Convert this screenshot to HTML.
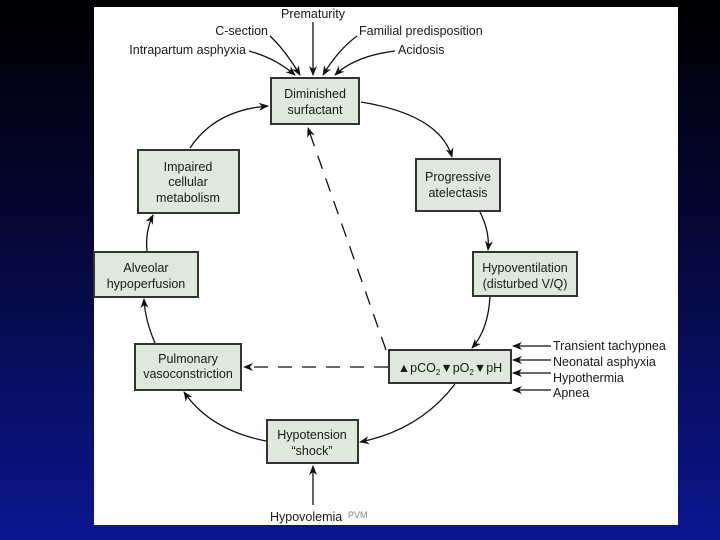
<!DOCTYPE html>
<html><head><style>
html,body{margin:0;padding:0}
body{width:720px;height:540px;background:linear-gradient(#000 0%,#05083a 45%,#0c1690 100%);position:relative;overflow:hidden;font-family:"Liberation Sans",sans-serif}
#p{position:absolute;left:94px;top:7px;width:584px;height:518px;background:#fff}
</style></head><body>
<div id="p"></div>
<svg width="720" height="540" style="position:absolute;left:0;top:0" font-family="Liberation Sans, sans-serif" font-size="12.5" fill="#1a1a1a">
<defs><marker id="a" markerWidth="10" markerHeight="8" refX="9" refY="4" orient="auto" markerUnits="userSpaceOnUse"><path d="M0,0 L10,4 L0,8 L3,4z" fill="#111"/></marker></defs>
<g fill="#dfe8dc" stroke="#333" stroke-width="2">
<rect x="271" y="78" width="88" height="46"/>
<rect x="138" y="150" width="101" height="63"/>
<rect x="416" y="159" width="84" height="52"/>
<rect x="473" y="252" width="104" height="44"/>
<rect x="389" y="350" width="122" height="33"/>
<rect x="94" y="252" width="104" height="45"/>
<rect x="135" y="344" width="106" height="46"/>
<rect x="267" y="420" width="91" height="43"/>
</g>
<g text-anchor="middle">
<text x="315" y="98">Diminished</text><text x="315" y="114">surfactant</text>
<text x="188" y="171">Impaired</text><text x="188" y="186">cellular</text><text x="188" y="202">metabolism</text>
<text x="458" y="181">Progressive</text><text x="458" y="197">atelectasis</text>
<text x="525" y="272">Hypoventilation</text><text x="525" y="288">(disturbed V/Q)</text>
<text x="146" y="272">Alveolar</text><text x="146" y="288">hypoperfusion</text>
<text x="188" y="363">Pulmonary</text><text x="188" y="378">vasoconstriction</text>
<text x="312" y="439">Hypotension</text><text x="312" y="455">“shock”</text>
<text x="313" y="18">Prematurity</text>
</g>
<text x="450" y="372" text-anchor="middle">▲pCO<tspan font-size="8" dy="3">2</tspan><tspan dy="-3">▼pO</tspan><tspan font-size="8" dy="3">2</tspan><tspan dy="-3">▼pH</tspan></text>
<text x="268" y="35" text-anchor="end">C-section</text>
<text x="359" y="35">Familial predisposition</text>
<text x="246" y="54" text-anchor="end">Intrapartum asphyxia</text>
<text x="398" y="54">Acidosis</text>
<text x="553" y="350">Transient tachypnea</text>
<text x="553" y="366">Neonatal asphyxia</text>
<text x="553" y="382">Hypothermia</text>
<text x="553" y="397">Apnea</text>
<text x="270" y="521">Hypovolemia</text>
<text x="348" y="518" font-size="9" fill="#888">PVM</text>
<g stroke="#111" stroke-width="1.3" fill="none" marker-end="url(#a)">
<line x1="313" y1="22" x2="313" y2="75"/>
<path d="M270,36 Q285,50 300,75"/>
<path d="M357,36 Q338,50 323,75"/>
<path d="M249,51 Q275,58 295,75"/>
<path d="M395,51 Q355,56 335,75"/>
<path d="M190,148 Q215,110 268,106"/>
<path d="M361,102 Q440,115 452,157"/>
<path d="M480,212 Q490,232 488,250"/>
<path d="M490,297 Q488,330 472,348"/>
<path d="M455,384 Q420,430 360,442"/>
<path d="M266,441 Q210,430 184,392"/>
<path d="M155,343 Q145,320 144,299"/>
<path d="M147,251 Q145,232 153,215"/>
<line x1="313" y1="505" x2="313" y2="466"/>
<line x1="551" y1="346" x2="513" y2="346"/>
<line x1="551" y1="360" x2="513" y2="360"/>
<line x1="551" y1="373" x2="513" y2="373"/>
<line x1="551" y1="390" x2="513" y2="390"/>
<path d="M386,350 L308,128" stroke-dasharray="14,10"/>
<line x1="388" y1="367" x2="244" y2="367" stroke-dasharray="14,10"/>
</g>
</svg>
</body></html>
